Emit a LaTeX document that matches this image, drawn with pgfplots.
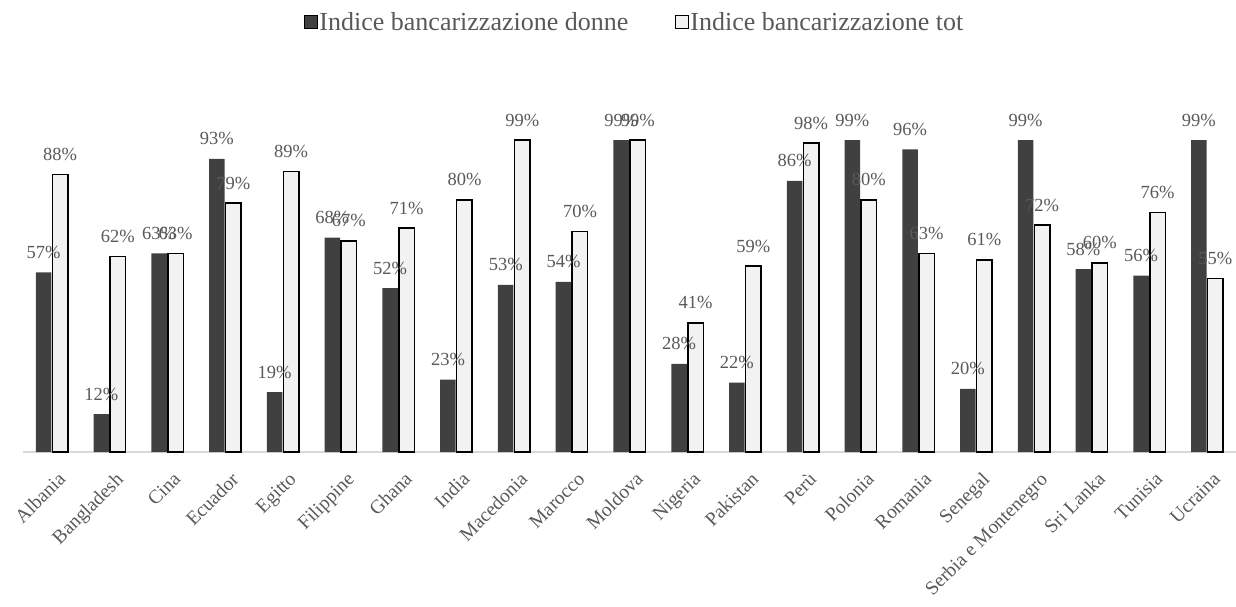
\documentclass[border=0pt]{standalone}
\usepackage{pgfplots}
\usepackage{pgfplotstable}
\pgfplotsset{compat=1.18}
\usepackage{fontspec}
\setmainfont{Liberation Serif}
\definecolor{darkbar}{HTML}{404040}
\definecolor{lightbar}{HTML}{F2F2F2}
\definecolor{txt}{HTML}{595959}
\definecolor{axisline}{HTML}{D9D9D9}

\pgfplotstableread{
x donne tot
0 57 88
1 12 62
2 63 63
3 93 79
4 19 89
5 68 67
6 52 71
7 23 80
8 53 99
9 54 70
10 99 99
11 28 41
12 22 59
13 86 98
14 99 80
15 96 63
16 20 61
17 99 72
18 58 60
19 56 76
20 99 55
}\datatable

\begin{document}
\begin{tikzpicture}
\useasboundingbox (-23pt,-155pt) rectangle (1213pt,452pt);
\begin{axis}[
  at={(0,0)}, anchor=south west,
  scale only axis, width=1213pt, height=312pt,
  xmin=-0.5, xmax=20.5, ymin=0, ymax=99,
  ybar=1pt, bar width=15.5pt,
  /pgf/number format/assume math mode=true,
  axis x line*=bottom, axis y line=none,
  x axis line style={draw=axisline, line width=1.2pt},
  xtick=data, major tick length=0pt,
  xticklabels={Albania,Bangladesh,Cina,Ecuador,Egitto,Filippine,Ghana,India,Macedonia,Marocco,Moldova,Nigeria,Pakistan,Perù,Polonia,Romania,Senegal,Serbia e Montenegro,Sri Lanka,Tunisia,Ucraina},
  xticklabel style={xshift=5pt, yshift=-19pt, rotate=45, anchor=north east, inner sep=0pt, font=\fontsize{19.5}{23}\selectfont, text=txt},
  nodes near coords={\pgfmathprintnumber{\pgfplotspointmeta}\%},
  every node near coord/.append style={anchor=base, yshift=14pt, inner sep=0pt, font=\fontsize{18.5}{22}\selectfont, text=txt},
  clip=false,
  legend style={at={(0.504,1.378)}, anchor=center, legend columns=2, draw=none, fill=none,
    font=\fontsize{26}{31}\selectfont, text=txt,
    nodes={inner sep=1.5pt},
    /tikz/every even column/.append style={column sep=45pt}},
  legend image code/.code={\draw[#1, line width=1pt] (0pt,-6.5pt) rectangle (13pt,6.5pt);},
]
\addplot[fill=darkbar, draw=none] table[x=x, y=donne] {\datatable};
\addplot[fill=lightbar, draw=black, line width=1.5pt] table[x=x, y=tot] {\datatable};
\legend{Indice bancarizzazione donne, Indice bancarizzazione tot}
\end{axis}
\end{tikzpicture}
\end{document}
